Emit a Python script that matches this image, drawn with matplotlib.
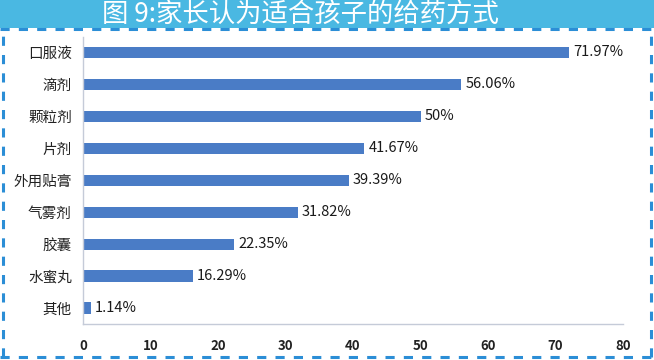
import matplotlib
matplotlib.use("Agg")
import matplotlib.pyplot as plt
from matplotlib.lines import Line2D
from matplotlib.patches import Rectangle

plt.rcParams['font.family'] = ['Noto Sans CJK SC', 'DejaVu Sans']

categories = ["口服液", "滴剂", "颗粒剂", "片剂", "外用贴膏", "气雾剂", "胶囊", "水蜜丸", "其他"]
values = [71.97, 56.06, 50, 41.67, 39.39, 31.82, 22.35, 16.29, 1.14]
labels = ["71.97%", "56.06%", "50%", "41.67%", "39.39%", "31.82%", "22.35%", "16.29%", "1.14%"]
xticks = [0, 10, 20, 30, 40, 50, 60, 70, 80]
title = "图 9:家长认为适合孩子的给药方式"

W, H = 654, 360
fig = plt.figure(figsize=(W / 100, H / 100), dpi=100)
fig.patch.set_facecolor('white')

# title banner
fig.patches.append(Rectangle((0, 1 - 28 / H), 1, 28 / H, transform=fig.transFigure,
                             facecolor='#4ab8e2', edgecolor='none', zorder=0))
fig.text(300 / W, 1 - 14 / H, title, ha='center', va='center', color='white',
         fontsize=19, fontweight='medium')

# dashed border
dash_kw = dict(transform=fig.transFigure, color='#2b8ed6', linewidth=2.2,
               linestyle=(0, (3, 3)))
fig.lines.append(Line2D([0, 1], [1 - 28.5 / H, 1 - 28.5 / H], **dash_kw))
fig.lines.append(Line2D([0, 1], [1 - 357 / H, 1 - 357 / H], **dash_kw))
fig.lines.append(Line2D([3 / W, 3 / W], [1 - 357 / H, 1 - 30 / H], **dash_kw))
fig.lines.append(Line2D([651 / W, 651 / W], [1 - 357 / H, 1 - 30 / H], **dash_kw))

ax = fig.add_axes([83 / W, 1 - 324 / H, (623 - 83) / W, (324 - 36.5) / H])
y = list(range(len(categories)))
ax.barh(y, values, height=0.35, color='#4a7cc6', zorder=2)
ax.set_ylim(len(categories) - 0.5, -0.5)
ax.set_xlim(0, 80)
ax.set_xticks(xticks)
ax.set_xticklabels([str(t) for t in xticks], fontsize=9.5, fontweight='bold', color='#222222')
ax.set_yticks(y)
ax.set_yticklabels(categories, fontsize=10.5, color='#222222')
ax.tick_params(axis='both', length=0)
ax.tick_params(axis='x', pad=11)
ax.tick_params(axis='y', pad=8)
for s in ['top', 'right']:
    ax.spines[s].set_visible(False)
for s in ['left', 'bottom']:
    ax.spines[s].set_color('#c5cbd8')
    ax.spines[s].set_linewidth(1.0)

for yi, v, lab in zip(y, values, labels):
    ax.annotate(lab, xy=(v, yi), xytext=(3, 0), textcoords='offset points',
                ha='left', va='center', fontsize=10.5, color='#1a1a1a')

fig.savefig('out.png', dpi=100)
